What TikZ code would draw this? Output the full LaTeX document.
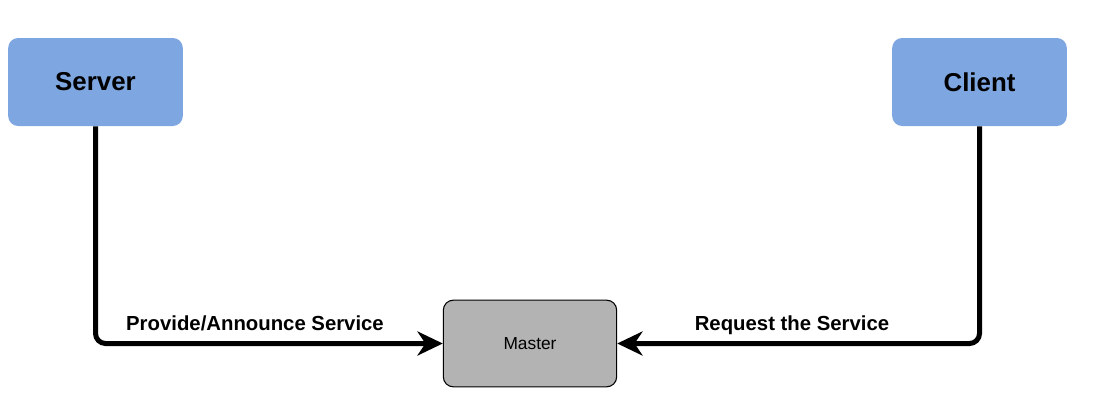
\documentclass[tikz,border=0pt]{standalone}
\usepackage{fontspec}
\setmainfont{Liberation Sans}
\usepackage{tikz}
\usetikzlibrary{arrows.meta,positioning}

\begin{document}
\begin{tikzpicture}[x=0.75pt, y=-0.75pt,
    role/.style={fill=roleblue, rounded corners=7.5pt, minimum width=131pt,
      minimum height=66pt, inner sep=0pt, font=\fontsize{19.4}{22}\selectfont\bfseries},
    master/.style={draw=black, fill=mastergray, line width=0.8pt, rounded corners=7.5pt,
      minimum width=130pt, minimum height=65pt, inner sep=0pt,
      font=\fontsize{13}{15}\selectfont},
    link/.style={line width=3.75pt, rounded corners=7.5pt,
      -{Stealth[length=19pt, width=18pt, inset=6pt]}},
    tag/.style={font=\fontsize{15.25}{18}\selectfont\bfseries, inner sep=0pt, anchor=base}]

  \definecolor{roleblue}{HTML}{7EA6E0}
  \definecolor{mastergray}{HTML}{B3B3B3}
  \useasboundingbox (0,0) rectangle (1104,418);

  \node[role] (server) at (95.5, 82) {Server};
  \node[role] (client) at (979.5, 82) {Client};
  \node[master] (master) at (530, 343.5) {Master};

  \draw[link] (server.south) |- (master.west); % Server -> Master
  \draw[link] (client.south) |- (master.east); % Client -> Master

  \node[tag] (provide) at (255, 330) {Provide/Announce Service};
  \node[tag] (request) at (792, 330) {Request the Service};

\end{tikzpicture}
\end{document}
